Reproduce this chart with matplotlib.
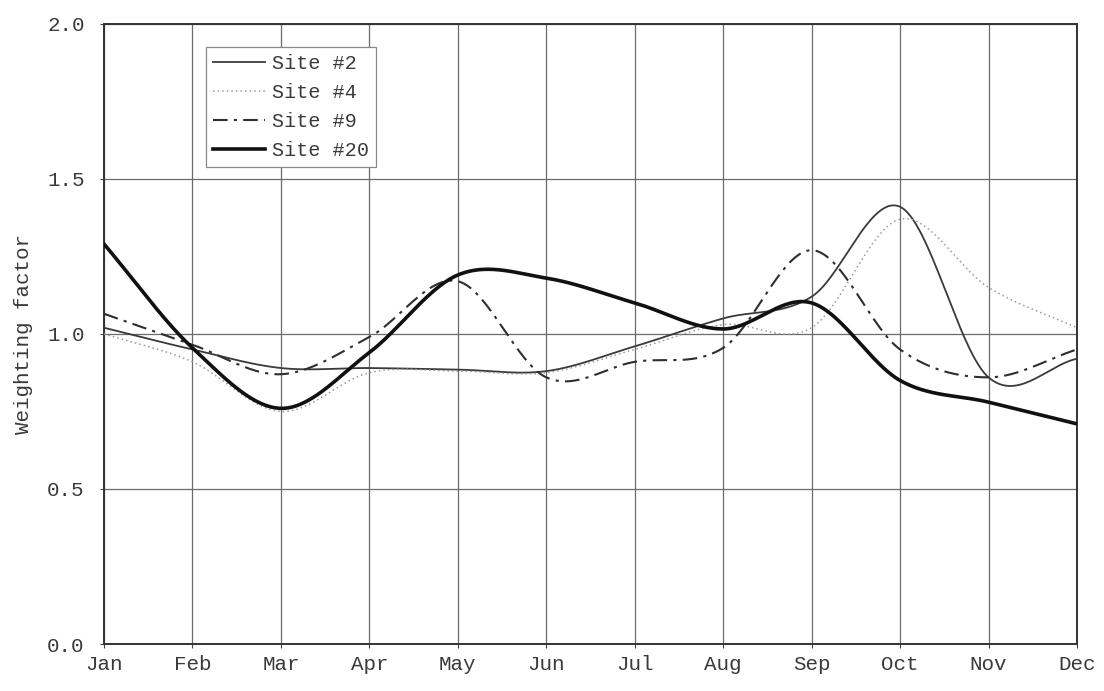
import numpy as np
import matplotlib
matplotlib.use("Agg")
import matplotlib.pyplot as plt

months = ["Jan", "Feb", "Mar", "Apr", "May", "Jun",
          "Jul", "Aug", "Sep", "Oct", "Nov", "Dec"]
y_ticks = [0.0, 0.5, 1.0, 1.5, 2.0]

site2 = [1.02, 0.95, 0.89, 0.89, 0.885, 0.88, 0.96, 1.05, 1.12, 1.41, 0.86, 0.92]
site4 = [1.00, 0.91, 0.75, 0.875, 0.88, 0.875, 0.95, 1.03, 1.02, 1.37, 1.15, 1.02]
site9 = [1.065, 0.965, 0.87, 0.99, 1.17, 0.86, 0.91, 0.955, 1.27, 0.95, 0.86, 0.95]
site20 = [1.29, 0.955, 0.76, 0.94, 1.19, 1.18, 1.10, 1.016, 1.10, 0.85, 0.78, 0.71]


def smooth_curve(x, y, per_seg=60):
    """Catmull-Rom curve through the monthly values."""
    x = np.asarray(x, float)
    y = np.asarray(y, float)
    k = len(x)
    m = np.empty(k)
    m[1:-1] = (y[2:] - y[:-2]) / (x[2:] - x[:-2])
    m[0] = (y[1] - y[0]) / (x[1] - x[0])
    m[-1] = (y[-1] - y[-2]) / (x[-1] - x[-2])
    xs_all, ys_all = [], []
    for i in range(k - 1):
        h = x[i + 1] - x[i]
        t = np.linspace(0, 1, per_seg, endpoint=(i == k - 2))
        h00 = 2 * t**3 - 3 * t**2 + 1
        h10 = t**3 - 2 * t**2 + t
        h01 = -2 * t**3 + 3 * t**2
        h11 = t**3 - t**2
        xs_all.append(x[i] + t * h)
        ys_all.append(h00 * y[i] + h10 * h * m[i] + h01 * y[i + 1] + h11 * h * m[i + 1])
    return np.concatenate(xs_all), np.concatenate(ys_all)


mono = "Liberation Mono"
plt.rcParams["font.family"] = [mono, "DejaVu Sans Mono"]
text_color = "#3a3a3a"

fig = plt.figure(figsize=(11.04, 6.91), dpi=100)
ax = fig.add_axes([0.0942, 0.068, 0.8813, 0.8975])

xpos = np.arange(len(months))
styles = [
    ("Site #2", site2, dict(color="#3a3a3a", lw=1.3, ls="-")),
    ("Site #4", site4, dict(color="#9a9a9a", lw=1.1, ls=(0, (1, 2)))),
    ("Site #9", site9, dict(color="#2e2e2e", lw=1.5, ls=(0, (7, 3, 1.5, 3)))),
    ("Site #20", site20, dict(color="#111111", lw=2.6, ls="-")),
]
for name, vals, st in styles:
    xs, ys = smooth_curve(xpos, vals)
    ax.plot(xs, ys, label=name, zorder=3, **st)

ax.set_xlim(0, len(months) - 1)
ax.set_ylim(0, 2.0)
ax.set_xticks(xpos)
ax.set_xticklabels(months, fontsize=15)
ax.set_yticks(y_ticks)
ax.set_yticklabels([f"{v:.1f}" for v in y_ticks], fontsize=15)
ax.tick_params(axis="both", length=3, width=0.8, color="#444444",
               labelcolor=text_color)
ax.tick_params(axis="x", pad=5)
ax.tick_params(axis="y", pad=11)
ax.set_ylabel("Weighting factor", fontsize=15, color=text_color, labelpad=10)
ax.grid(True, color="#6a6a6a", lw=0.9)
ax.set_axisbelow(True)
for sp in ax.spines.values():
    sp.set_color("#333333")
    sp.set_linewidth(1.4)

leg = ax.legend(loc="upper left", bbox_to_anchor=(0.1048, 0.963),
                fontsize=14.5, handlelength=2.6, handletextpad=0.35,
                labelspacing=0.5, borderpad=0.35, borderaxespad=0.0,
                fancybox=False, framealpha=1.0, edgecolor="#888888")
leg.get_frame().set_linewidth(0.9)
for t in leg.get_texts():
    t.set_color(text_color)

fig.savefig("out.png", dpi=100, facecolor="white")
